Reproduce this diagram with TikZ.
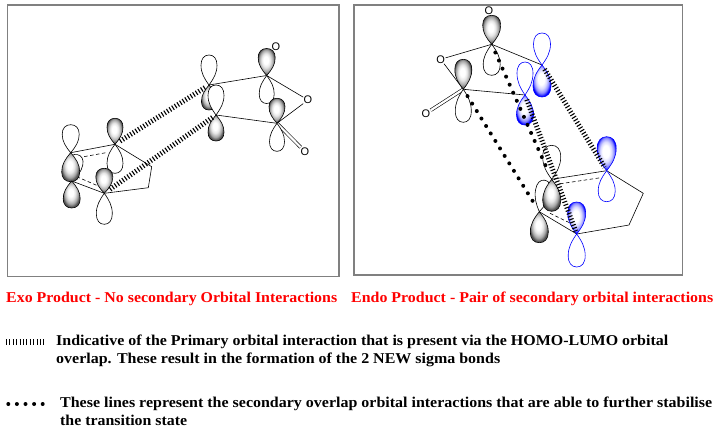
\documentclass[tikz,border=0pt]{standalone}
\usepackage{fontspec}
\setmainfont{Liberation Serif}
\newfontfamily\osans{Liberation Sans}
\usepackage{graphicx}
\colorlet{glight}{black!10}
\colorlet{gmid}{black!35}
\colorlet{gdark}{black!68}
\colorlet{blight}{blue!15}
\colorlet{bmid}{blue!45}
\colorlet{bdark}{blue}
\pgfdeclareradialshading{greyorb}{\pgfpoint{-3bp}{4bp}}{color(0bp)=(white); color(7bp)=(white); color(13bp)=(glight); color(20bp)=(gmid); color(25bp)=(gdark); color(50bp)=(gdark)}
\pgfdeclareradialshading{blueorb}{\pgfpoint{-3bp}{4bp}}{color(0bp)=(white); color(9bp)=(white); color(15bp)=(blight); color(21bp)=(bmid); color(26bp)=(bdark); color(50bp)=(bdark)}
\newcommand\orb[5]{\path[#5,shift={(#1)},rotate=#2] (0,0) .. controls ({-0.3*#4},{-0.22*#3}) and ({-0.5*#4},{-0.4*#3}) .. ({-0.5*#4},{-0.66*#3}) .. controls ({-0.5*#4},{-0.88*#3}) and ({-0.3*#4},{-#3}) .. (0,{-#3}) .. controls ({0.3*#4},{-#3}) and ({0.5*#4},{-0.88*#3}) .. ({0.5*#4},{-0.66*#3}) .. controls ({0.5*#4},{-0.4*#3}) and ({0.3*#4},{-0.22*#3}) .. cycle;}
\tikzset{
 boxst/.style={draw=black!50, line width=1.3},
 bond/.style={line width=0.6},
 dbond/.style={line width=0.6, dash pattern=on 3.5 off 2.5},
 dblbond/.style={line width=0.6, double, double distance=2.2},
 wlobe/.style={draw=black, fill=white, line width=0.6},
 globe/.style={draw=black, line width=0.6, shading=greyorb},
 bwlobe/.style={draw=blue, fill=white, line width=0.6},
 bblobe/.style={draw=blue, line width=0.6, shading=blueorb},
 hatchline/.style={line width=5, dash pattern=on 1.1 off 2},
 dotline/.style={line width=4, line cap=round, dash pattern=on 0pt off 8.8pt},
 oatom/.style={font=\osans\fontsize{11}{11}\selectfont, inner sep=0.3pt},
 titletext/.style={text=red, anchor=base west, inner sep=0, font=\fontsize{15}{18}\selectfont\bfseries},
 legtext/.style={anchor=base west, inner sep=0, font=\fontsize{15}{18}\selectfont\bfseries}
}
\begin{document}
\begin{tikzpicture}[x=1pt,y=-1pt]
\useasboundingbox (0,0) rectangle (717,434);
% boxes
\coordinate (L1) at (7.3,5); \coordinate (L2) at (339,276.7);
\coordinate (R1b) at (354,5); \coordinate (R2b) at (682.3,275);
\draw[boxst] (L1) rectangle (L2);
\draw[boxst] (R1b) rectangle (R2b);
% ---------- left (exo) ----------
\coordinate (C1) at (70.7,152.7); \coordinate (C2) at (71.7,181);
\coordinate (C3) at (115,144.3);  \coordinate (C4) at (104.3,193.3);
\coordinate (C5) at (151.7,166.7); \coordinate (C6) at (148.3,187.7);
\coordinate (c13a) at (78.3,157.7); \coordinate (c13b) at (107.5,152.4);
\coordinate (c24a) at (76.7,176.7); \coordinate (c24b) at (99,186.3);
\coordinate (D1) at (209,85); \coordinate (D2) at (216,115);
\coordinate (D3) at (266.7,75.5); \coordinate (D4) at (277,123.3);
\node[oatom] (Oa) at (308,100) {O};
\node[oatom] (Ob) at (305,151.7) {O};
\node[oatom] (Oc) at (276,46.5) {O};
\draw[bond] (C1) -- (C3) -- (C5) -- (C6) -- (C4) -- (C2);
\draw[dbond] (c13a) -- (c13b);
\draw[dbond] (c24a) -- (c24b);
\draw[bond] (D1) -- (D3) -- (Oa) -- (D4) -- (D2);
\draw[dblbond] (D4) -- (Ob);
\orb{C2}{-12}{27}{15}{wlobe}
\orb{C1}{0}{28}{17}{wlobe}
\orb{C1}{180}{29}{18}{globe}
\orb{C2}{180}{27}{17}{globe}
\orb{C3}{180}{29}{16}{wlobe}
\orb{C3}{0}{26}{16}{globe}
\orb{C4}{0}{25}{17}{globe}
\orb{C4}{180}{31}{16}{wlobe}
\orb{D1}{0}{30}{16}{wlobe}
\orb{D1}{180}{25}{15}{globe}
\orb{D2}{0}{30}{16}{wlobe}
\orb{D2}{180}{26}{16}{globe}
\orb{D3}{180}{28}{15}{wlobe}
\orb{D3}{0}{27}{17}{globe}
\orb{D4}{0}{25}{16}{globe}
\orb{D4}{180}{28}{15}{wlobe}
\draw[hatchline, shorten <=6, shorten >=4] (C3) -- (D1);
\draw[hatchline, shorten <=7, shorten >=4] (C4) -- (D2);
% ---------- right (endo) ----------
\coordinate (E1) at (491.7,44.3); \coordinate (E2) at (463.3,89.3);
\coordinate (F1) at (542,65); \coordinate (F2) at (525,95);
\coordinate (G1) at (551.7,179.3); \coordinate (G2) at (539.3,211.7);
\coordinate (H1) at (606.7,170.7); \coordinate (H2) at (576.7,234);
\coordinate (K1) at (643.3,193.3); \coordinate (K2) at (629,225);
\coordinate (g1h1a) at (560,183.8); \coordinate (g1h1b) at (600,177.8);
\coordinate (g2h2a) at (550,213.3); \coordinate (g2h2b) at (570,223);
\node[oatom] (Od) at (489,10.5) {O};
\node[oatom] (Oe) at (440.7,59.3) {O};
\node[oatom] (Of) at (426,113.3) {O};
\draw[bond] (Oe) -- (E1) -- (F1);
\draw[bond] (Oe) -- (E2) -- (F2);
\draw[dblbond] (E2) -- (Of);
\draw[bond] (G1) -- (H1) -- (K1) -- (K2) -- (H2) -- (G2);
\draw[dbond] (g1h1a) -- (g1h1b);
\draw[dbond] (g2h2a) -- (g2h2b);
\orb{E1}{180}{31}{17}{wlobe}
\orb{E1}{0}{29}{18}{globe}
\orb{E2}{180}{33}{16}{wlobe}
\orb{E2}{0}{30}{17}{globe}
\orb{F1}{0}{32}{17}{bwlobe}
\orb{F1}{180}{32}{18}{bblobe}
\orb{F2}{0}{33}{16}{bwlobe}
\orb{F2}{180}{30}{17}{bblobe}
\orb{G2}{-10}{32}{15}{wlobe}
\orb{G1}{0}{34}{18}{wlobe}
\orb{G1}{180}{32}{18}{globe}
\orb{G2}{180}{31}{18}{globe}
\orb{H1}{180}{31}{17}{bwlobe}
\orb{H1}{0}{34}{19}{bblobe}
\orb{H2}{180}{33}{17}{bwlobe}
\orb{H2}{0}{32}{18}{bblobe}
\draw[hatchline, shorten <=5, shorten >=4] (F1) -- (H1);
\draw[hatchline, shorten <=5, shorten >=3] (F2) -- (H2);
\draw[dotline, shorten <=9, shorten >=9] (E1) -- (G1);
\draw[dotline, shorten <=8, shorten >=6] (E2) -- (G2);
% ---------- captions ----------
\node[titletext] (t1) at (6,302.7) {\resizebox{331pt}{\height}{Exo Product - No secondary Orbital Interactions}};
\node[titletext] (t2) at (351,302.7) {\resizebox{362pt}{\height}{Endo Product - Pair of secondary orbital interactions}};
\coordinate (hl1) at (6,341.5); \coordinate (hl2) at (46,341.5);
\draw[line width=6, dash pattern=on 1 off 2.4] (hl1) -- (hl2);
\node[legtext] (t3) at (56,345) {\resizebox{612pt}{\height}{Indicative of the Primary orbital interaction that is present via the HOMO-LUMO orbital}};
\node[legtext] (t4) at (56,363) {\resizebox{444pt}{\height}{overlap. These result in the formation of the 2 NEW sigma bonds}};
\coordinate (dl1) at (8.3,404); \coordinate (dl2) at (43,404);
\draw[line width=4, line cap=round, dash pattern=on 0pt off 8.6pt] (dl1) -- (dl2);
\node[legtext] (t5) at (60,407.3) {\resizebox{652pt}{\height}{These lines represent the secondary overlap orbital interactions that are able to further stabilise}};
\node[legtext] (t6) at (60,425.5) {\resizebox{127pt}{\height}{the transition state}};
\end{tikzpicture}
\end{document}
